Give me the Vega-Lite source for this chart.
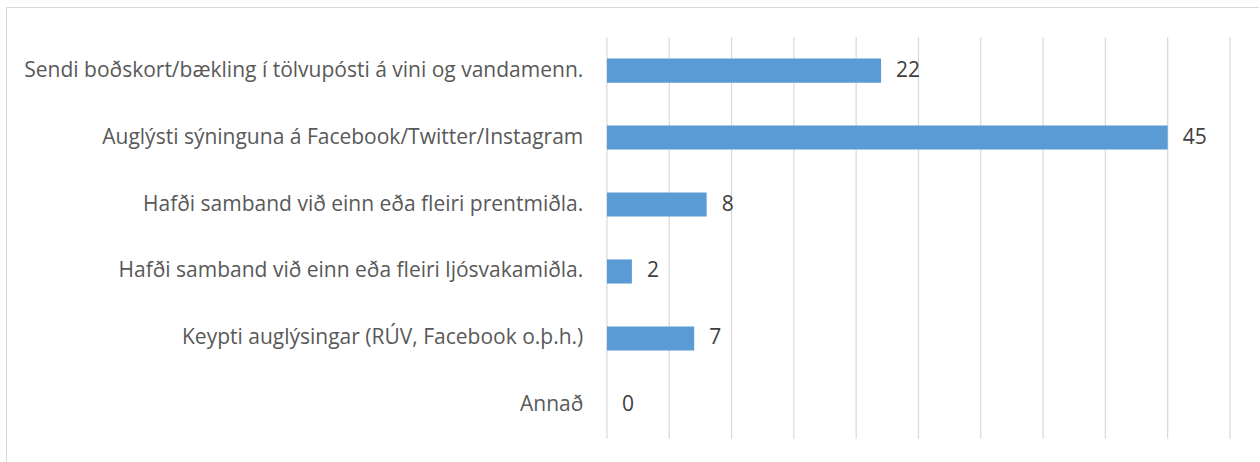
{
  "$schema": "https://vega.github.io/schema/vega-lite/v6.json",
  "width": 1253,
  "height": 462,
  "autosize": {"type": "none"},
  "padding": {"left": 6, "top": 7, "right": 0, "bottom": 0},
  "background": "#ffffff",
  "config": {"view": {"stroke": "#d9d9d9", "strokeWidth": 1}},
  "datasets": {
    "bars": [
      {"cat": "Sendi boðskort/bækling í tölvupósti á vini og vandamenn.", "value": 22},
      {"cat": "Auglýsti sýninguna á Facebook/Twitter/Instagram", "value": 45},
      {"cat": "Hafði samband við einn eða fleiri prentmiðla.", "value": 8},
      {"cat": "Hafði samband við einn eða fleiri ljósvakamiðla.", "value": 2},
      {"cat": "Keypti auglýsingar (RÚV, Facebook o.þ.h.)", "value": 7},
      {"cat": "Annað", "value": 0}
    ],
    "grid": [
      {"v": 0}, {"v": 5}, {"v": 10}, {"v": 15}, {"v": 20}, {"v": 25},
      {"v": 30}, {"v": 35}, {"v": 40}, {"v": 45}, {"v": 50}
    ]
  },
  "layer": [
    {
      "data": {"name": "grid"},
      "mark": {"type": "rule", "color": "#d9d9d9", "strokeWidth": 1.2},
      "encoding": {
        "x": {"field": "v", "type": "quantitative"},
        "y": {"datum": "Sendi boðskort/bækling í tölvupósti á vini og vandamenn.", "type": "nominal", "bandPosition": -0.8889},
        "y2": {"datum": "Annað", "bandPosition": 1.8889}
      }
    },
    {
      "data": {"name": "bars"},
      "mark": {"type": "bar", "color": "#5b9bd5"},
      "encoding": {
        "x": {"field": "value", "type": "quantitative"},
        "y": {"field": "cat", "type": "nominal"}
      }
    },
    {
      "data": {"name": "bars"},
      "mark": {"type": "text", "align": "left", "baseline": "middle", "dx": 15, "dy": 0, "font": "Open Sans", "fontSize": 21, "color": "#404040"},
      "encoding": {
        "x": {"field": "value", "type": "quantitative"},
        "y": {"field": "cat", "type": "nominal"},
        "text": {"field": "value", "type": "quantitative"}
      }
    },
    {
      "data": {"name": "bars"},
      "mark": {"type": "text", "align": "right", "baseline": "middle", "dy": 0, "font": "Open Sans", "fontSize": 21, "color": "#595959"},
      "encoding": {
        "x": {"datum": -1.9},
        "y": {"field": "cat", "type": "nominal"},
        "text": {"field": "cat", "type": "nominal"}
      }
    }
  ],
  "resolve": {"scale": {"x": "shared", "y": "shared"}},
  "encoding": {
    "x": {
      "type": "quantitative",
      "scale": {"domain": [-48.23, 52.33], "nice": false, "zero": false},
      "axis": null
    },
    "y": {
      "type": "nominal",
      "sort": null,
      "scale": {
        "domain": [
          "Sendi boðskort/bækling í tölvupósti á vini og vandamenn.",
          "Auglýsti sýninguna á Facebook/Twitter/Instagram",
          "Hafði samband við einn eða fleiri prentmiðla.",
          "Hafði samband við einn eða fleiri ljósvakamiðla.",
          "Keypti auglýsingar (RÚV, Facebook o.þ.h.)",
          "Annað"
        ],
        "paddingInner": 0.64,
        "paddingOuter": 0.77
      },
      "axis": null
    }
  }
}
